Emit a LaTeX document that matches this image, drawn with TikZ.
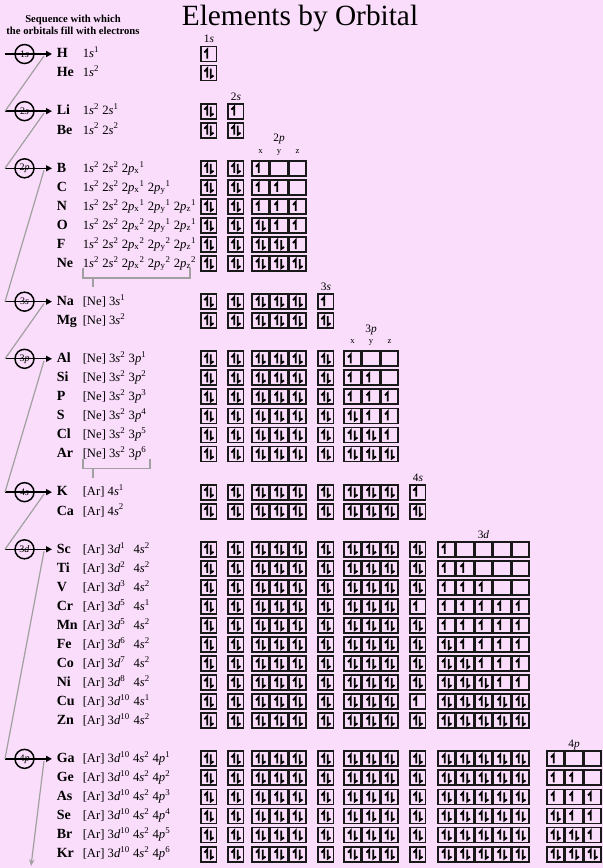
\documentclass[tikz,border=0pt]{standalone}
\usepackage{fontspec}
\setmainfont{Liberation Serif}
\usetikzlibrary{arrows.meta,calc}

\definecolor{bgpink}{RGB}{250,221,250}
\definecolor{seqgray}{RGB}{160,160,160}

% orbital terms
\newcommand{\orb}[3]{#1\textit{#2}\textsuperscript{#3}}
\newcommand{\porb}[3]{#1\textit{p}\textsubscript{#2}\textsuperscript{#3}}
\newcommand{\dorb}[1]{\makebox[17pt][l]{\orb{3}{d}{#1}}}

% left edges and widths of the orbital boxes (px)
\def\colx{{201,228,252,270.5,289,318,344,362.5,381,410,438,456.5,475,493.5,512,547,565.5,584}}
\def\colw{{15.5,15.5,17,17,17,15.5,17,17,17,15.5,17,17,17,17,17,17,17,17}}

\tikzset{
  elem/.style={anchor=base west,inner sep=0pt,font=\fontsize{10.5}{12}\selectfont\bfseries},
  conf/.style={anchor=base west,inner sep=0pt,font=\fontsize{9.5}{11}\selectfont},
  orbhead/.style={anchor=base,inner sep=0pt,font=\fontsize{8.5}{10}\selectfont},
  axhead/.style={anchor=base,inner sep=0pt,font=\fontsize{6.5}{7}\selectfont},
  orbcirc/.style={circle,draw,line width=1.1pt,minimum size=14.25pt,inner sep=0pt,
    font=\fontsize{7.5}{8}\selectfont},
  seqarrow/.style={line width=1pt,-{Triangle[length=4.5pt,width=4.5pt]}},
  zig/.style={seqgray,line width=0.9pt},
  obox/.style={draw=black!90,line width=1.4pt},
  harp/.style={line width=1.4pt}
}

\begin{document}
\begin{tikzpicture}[x=0.75pt,y=-0.75pt]
  \useasboundingbox (0,0) rectangle (603,868);
  \fill[bgpink] (0,0) rectangle (603,868);

  % title and sequence heading
  \node[anchor=base,inner sep=0pt,font=\fontsize{22}{26}\selectfont] (title) at (300,25) {Elements by Orbital};
  \node[anchor=base,inner sep=0pt,font=\fontsize{8}{9}\selectfont\bfseries] (seq1) at (73,22.5) {Sequence with which};
  \node[anchor=base,inner sep=0pt,font=\fontsize{8}{9}\selectfont\bfseries] (seq2) at (73,34) {the orbitals fill with electrons};

  % filling sequence
  \foreach \nm/\n/\l/\r in {a/1/s/0,b/2/s/3,c/2/p/6,d/3/s/13,e/3/p/16,f/4/s/23,g/3/d/26,h/4/p/37}{
    \pgfmathsetmacro\yy{54+19.05*\r}
    \coordinate (st-\nm) at (5,\yy);
    \coordinate (en-\nm) at (52,\yy);
    \coordinate (tp-\nm) at (44,\yy+2);
    \node[orbcirc] (c-\nm) at (24.5,\yy) {\n\textit{\l}};
    \draw[seqarrow] (st-\nm) -- (en-\nm);
  }
  \foreach \a/\b in {a/b,b/c,c/d,d/e,e/f,f/g,g/h}
    \draw[zig] (tp-\a) -- (st-\b);
  \coordinate (nx) at (31,866);
  \draw[zig,-{Stealth[length=5pt,width=4pt]}] (tp-h) -- (nx);

  % column headings
  \foreach \nm/\x/\y/\t in {1s/209/42/{1\textit{s}},2s/236/100/{2\textit{s}},2p/279/141.8/{2\textit{p}},
      3s/326/290.5/{3\textit{s}},3p/371/332.3/{3\textit{p}},4s/418/481/{4\textit{s}},
      3d/483.5/538/{3\textit{d}},4p/574/747/{4\textit{p}}}
    \node[orbhead] (hd-\nm) at (\x,\y) {\t};
  \foreach \x/\a in {260.5/x,279/y,297.5/z}
    \node[axhead] (ax2-\a) at (\x,153.3) {\a};
  \foreach \x/\a in {352.5/x,371/y,389.5/z}
    \node[axhead] (ax3-\a) at (\x,343.8) {\a};

  % elements
  \foreach \r/\el/\cf/\occ in {
      0/H/{\orb{1}{s}{1}}/{1},
      1/He/{\orb{1}{s}{2}}/{2},
      3/Li/{\orb{1}{s}{2} \orb{2}{s}{1}}/{2,1},
      4/Be/{\orb{1}{s}{2} \orb{2}{s}{2}}/{2,2},
      6/B/{\orb{1}{s}{2} \orb{2}{s}{2} \porb{2}{x}{1}}/{2,2,1,0,0},
      7/C/{\orb{1}{s}{2} \orb{2}{s}{2} \porb{2}{x}{1} \porb{2}{y}{1}}/{2,2,1,1,0},
      8/N/{\orb{1}{s}{2} \orb{2}{s}{2} \porb{2}{x}{1} \porb{2}{y}{1} \porb{2}{z}{1}}/{2,2,1,1,1},
      9/O/{\orb{1}{s}{2} \orb{2}{s}{2} \porb{2}{x}{2} \porb{2}{y}{1} \porb{2}{z}{1}}/{2,2,2,1,1},
      10/F/{\orb{1}{s}{2} \orb{2}{s}{2} \porb{2}{x}{2} \porb{2}{y}{2} \porb{2}{z}{1}}/{2,2,2,2,1},
      11/Ne/{\orb{1}{s}{2} \orb{2}{s}{2} \porb{2}{x}{2} \porb{2}{y}{2} \porb{2}{z}{2}}/{2,2,2,2,2},
      13/Na/{[Ne] \orb{3}{s}{1}}/{2,2,2,2,2,1},
      14/Mg/{[Ne] \orb{3}{s}{2}}/{2,2,2,2,2,2},
      16/Al/{[Ne] \orb{3}{s}{2} \orb{3}{p}{1}}/{2,2,2,2,2,2,1,0,0},
      17/Si/{[Ne] \orb{3}{s}{2} \orb{3}{p}{2}}/{2,2,2,2,2,2,1,1,0},
      18/P/{[Ne] \orb{3}{s}{2} \orb{3}{p}{3}}/{2,2,2,2,2,2,1,1,1},
      19/S/{[Ne] \orb{3}{s}{2} \orb{3}{p}{4}}/{2,2,2,2,2,2,2,1,1},
      20/Cl/{[Ne] \orb{3}{s}{2} \orb{3}{p}{5}}/{2,2,2,2,2,2,2,2,1},
      21/Ar/{[Ne] \orb{3}{s}{2} \orb{3}{p}{6}}/{2,2,2,2,2,2,2,2,2},
      23/K/{[Ar] \orb{4}{s}{1}}/{2,2,2,2,2,2,2,2,2,1},
      24/Ca/{[Ar] \orb{4}{s}{2}}/{2,2,2,2,2,2,2,2,2,2},
      26/Sc/{[Ar] \dorb{1} \orb{4}{s}{2}}/{2,2,2,2,2,2,2,2,2,2,1,0,0,0,0},
      27/Ti/{[Ar] \dorb{2} \orb{4}{s}{2}}/{2,2,2,2,2,2,2,2,2,2,1,1,0,0,0},
      28/V/{[Ar] \dorb{3} \orb{4}{s}{2}}/{2,2,2,2,2,2,2,2,2,2,1,1,1,0,0},
      29/Cr/{[Ar] \dorb{5} \orb{4}{s}{1}}/{2,2,2,2,2,2,2,2,2,1,1,1,1,1,1},
      30/Mn/{[Ar] \dorb{5} \orb{4}{s}{2}}/{2,2,2,2,2,2,2,2,2,2,1,1,1,1,1},
      31/Fe/{[Ar] \dorb{6} \orb{4}{s}{2}}/{2,2,2,2,2,2,2,2,2,2,2,1,1,1,1},
      32/Co/{[Ar] \dorb{7} \orb{4}{s}{2}}/{2,2,2,2,2,2,2,2,2,2,2,2,1,1,1},
      33/Ni/{[Ar] \dorb{8} \orb{4}{s}{2}}/{2,2,2,2,2,2,2,2,2,2,2,2,2,1,1},
      34/Cu/{[Ar] \dorb{10} \orb{4}{s}{1}}/{2,2,2,2,2,2,2,2,2,1,2,2,2,2,2},
      35/Zn/{[Ar] \dorb{10} \orb{4}{s}{2}}/{2,2,2,2,2,2,2,2,2,2,2,2,2,2,2},
      37/Ga/{[Ar] \orb{3}{d}{10} \orb{4}{s}{2} \orb{4}{p}{1}}/{2,2,2,2,2,2,2,2,2,2,2,2,2,2,2,1,0,0},
      38/Ge/{[Ar] \orb{3}{d}{10} \orb{4}{s}{2} \orb{4}{p}{2}}/{2,2,2,2,2,2,2,2,2,2,2,2,2,2,2,1,1,0},
      39/As/{[Ar] \orb{3}{d}{10} \orb{4}{s}{2} \orb{4}{p}{3}}/{2,2,2,2,2,2,2,2,2,2,2,2,2,2,2,1,1,1},
      40/Se/{[Ar] \orb{3}{d}{10} \orb{4}{s}{2} \orb{4}{p}{4}}/{2,2,2,2,2,2,2,2,2,2,2,2,2,2,2,2,1,1},
      41/Br/{[Ar] \orb{3}{d}{10} \orb{4}{s}{2} \orb{4}{p}{5}}/{2,2,2,2,2,2,2,2,2,2,2,2,2,2,2,2,2,1},
      42/Kr/{[Ar] \orb{3}{d}{10} \orb{4}{s}{2} \orb{4}{p}{6}}/{2,2,2,2,2,2,2,2,2,2,2,2,2,2,2,2,2,2}}{
    \pgfmathsetmacro\yy{54+19.05*\r}
    \node[elem] (el-\el) at (56.5,\yy+3.8) {\el};
    \node[conf] (cf-\el) at (82.5,\yy+3.8) {\cf};
    \foreach \v [count=\c] in \occ {
      \pgfmathsetmacro\bx{\colx[\c-1]}
      \pgfmathsetmacro\bw{\colw[\c-1]}
      \draw[obox] (\bx,\yy-7.5) rectangle ++(\bw,15);
      \ifnum\v>0 \draw[harp] (\bx+\bw*0.40,\yy+4.5) -- ++(0,-9) -- ++(-2.8,3); \fi
      \ifnum\v>1 \draw[harp] (\bx+\bw*0.63,\yy-4.5) -- ++(0,9) -- ++(2.8,-2); \fi
    }
  }

  % core brackets
  \coordinate (ne-l) at (83,268);
  \coordinate (ne-r) at (190,268);
  \coordinate (ne-t) at (93,278);
  \draw[zig] (ne-l) -- ++(0,10) -| (ne-r);
  \draw[zig] (ne-t) -- ++(0,9);
  \coordinate (ar-l) at (83,458.5);
  \coordinate (ar-r) at (150,458.5);
  \coordinate (ar-t) at (93,468.5);
  \draw[zig] (ar-l) -- ++(0,10) -| (ar-r);
  \draw[zig] (ar-t) -- ++(0,9);
\end{tikzpicture}
\end{document}
